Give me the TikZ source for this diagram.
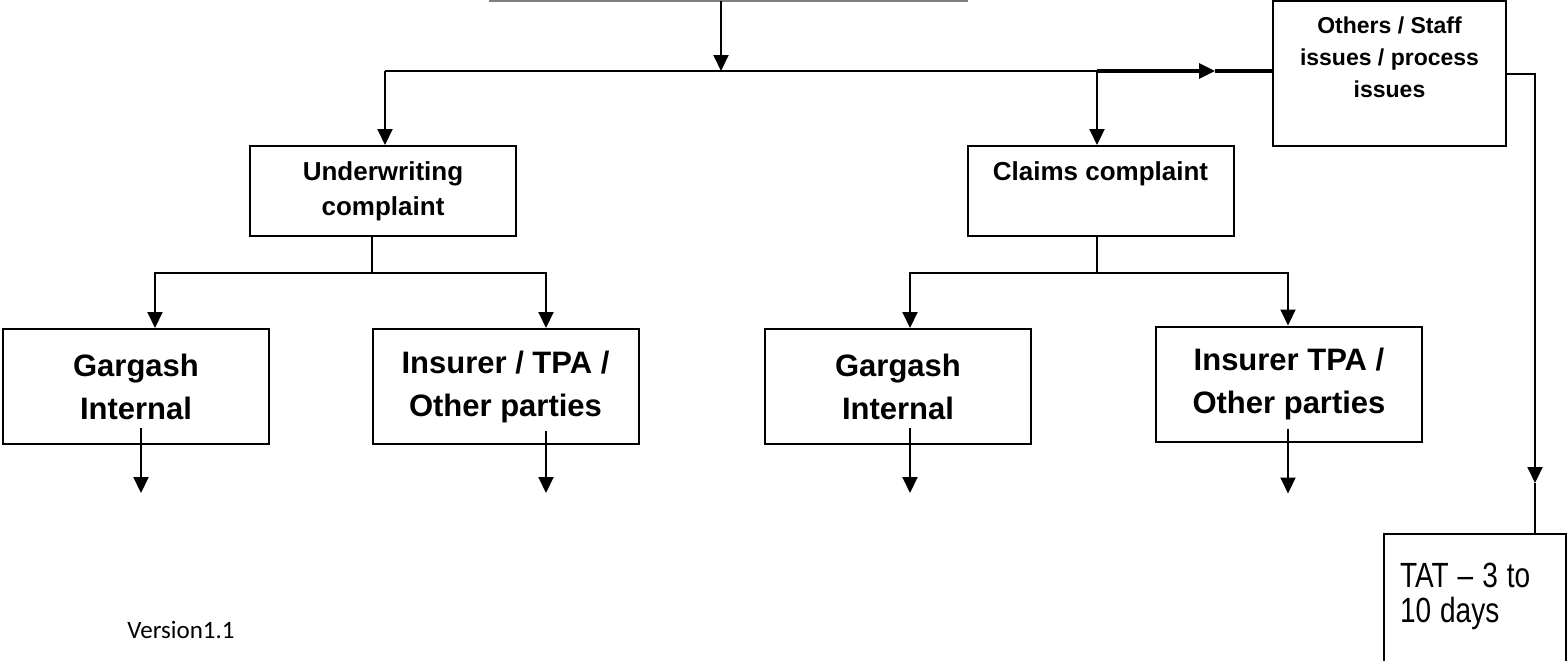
\documentclass[tikz,border=0pt]{standalone}
\usepackage{fontspec}
\setmainfont{Liberation Sans}
\newfontfamily\narrowfont[FakeStretch=0.8]{Liberation Sans}
\newfontfamily\versionfont{Carlito}
\newcommand{\tightspace}{\spaceskip=4.5pt plus 1pt\relax}
\usetikzlibrary{positioning,arrows.meta}
\tikzset{
  box/.style={draw, line width=1pt, inner sep=0pt, align=center, font=\bfseries},
  smallBox/.style={box, minimum width=133pt, minimum height=45pt, font=\fontsize{13}{17.5}\selectfont\bfseries},
  bigBox/.style={box, minimum width=133pt, minimum height=57.5pt, font=\fontsize{15.5}{21.5}\selectfont\bfseries},
  arrow/.style={-{Triangle[length=8pt,width=7.5pt]}, line width=1pt},
  link/.style={line width=1pt}
}

\begin{document}
\begin{tikzpicture}[x=0.5pt, y=-0.5pt]
  \clip (0,0) rectangle (1567,660);
  % top box, only its lower edge is on the page
  \node[minimum width=239.5pt, minimum height=50pt, inner sep=0pt] (intake) at (728.5,-49) {};
  \draw[gray, line width=1pt] (intake.south west) -- (intake.south east);

  \coordinate (busL) at (385,71);
  \coordinate (busR) at (1097,71);
  \coordinate (busArr) at (1215,71);
  \coordinate (uwJoin) at (372,273);
  \coordinate (clJoin) at (1097,273);
  \coordinate (tatArr) at (1535,483);

  \node[smallBox] (uw) at (383,191) {Underwriting\\complaint};
  \node[smallBox] (cl) at (1100.5,191) {Claims complaint\\\phantom{complaint}};
  \node[box, minimum width=116.5pt, minimum height=72.5pt, font=\fontsize{11.5}{16}\selectfont\bfseries] (oth) at (1389.5,73.5) {Others / Staff\\issues / process\\issues\\\phantom{issues}};

  \node[bigBox] (g1) at (136,386.5) {Gargash\\Internal};
  \node[bigBox] (ins1) at (505.5,386.5) {Insurer / TPA /\\Other parties};
  \node[bigBox] (g2) at (898,386.5) {Gargash\\Internal};
  \node[bigBox] (ins2) at (1289,384) {Insurer TPA /\\Other parties};

  \node[box, font=\narrowfont\fontsize{17.5}{17.5}\selectfont, align=left, text width=75pt, inner xsep=8pt, minimum height=76pt] (tat) at (1475,610) {\tightspace TAT – 3 to\\\tightspace 10 days\\\phantom{x}};

  \node[font=\versionfont\fontsize{12.5}{14}\selectfont, anchor=west, inner sep=0pt] (ver) at (127,630) {Version1.1};

  % top level split
  \draw[arrow] ([xshift=-3.75pt]intake.south) -- ([xshift=-3.75pt]intake.south |- busL);
  \draw[link] (busL) -- (busR);
  \draw[arrow, line width=1.6pt] (busR) -- (busArr);
  \draw[line width=1.6pt] (busArr) -- (oth.west |- busArr);
  \draw[arrow] (busL) -- (uw.north -| busL);
  \draw[arrow] (busR) -- (cl.north -| busR);

  % underwriting branch
  \draw[link] (uw.south -| uwJoin) -- (uwJoin);
  \draw[arrow] (uwJoin) -| ([xshift=9.5pt]g1.north);
  \draw[arrow] (uwJoin) -| ([xshift=20.25pt]ins1.north);

  % claims branch
  \draw[link] (cl.south -| clJoin) -- (clJoin);
  \draw[arrow] (clJoin) -| ([xshift=6pt]g2.north);
  \draw[arrow] (clJoin) -| ([xshift=-0.5pt]ins2.north);

  % outgoing arrows
  \draw[arrow] ([xshift=2.5pt,yshift=8.5pt]g1.south) -- ++(0,65);
  \draw[arrow] ([xshift=20.25pt,yshift=7pt]ins1.south) -- ++(0,62);
  \draw[arrow] ([xshift=6pt,yshift=8.5pt]g2.south) -- ++(0,65);
  \draw[arrow] ([xshift=-0.5pt,yshift=7pt]ins2.south) -- ++(0,65);

  % others to TAT
  \draw[arrow] (oth.east) -| (tatArr);
  \draw[link] (tatArr) -- (tat.north -| tatArr);
\end{tikzpicture}
\end{document}
